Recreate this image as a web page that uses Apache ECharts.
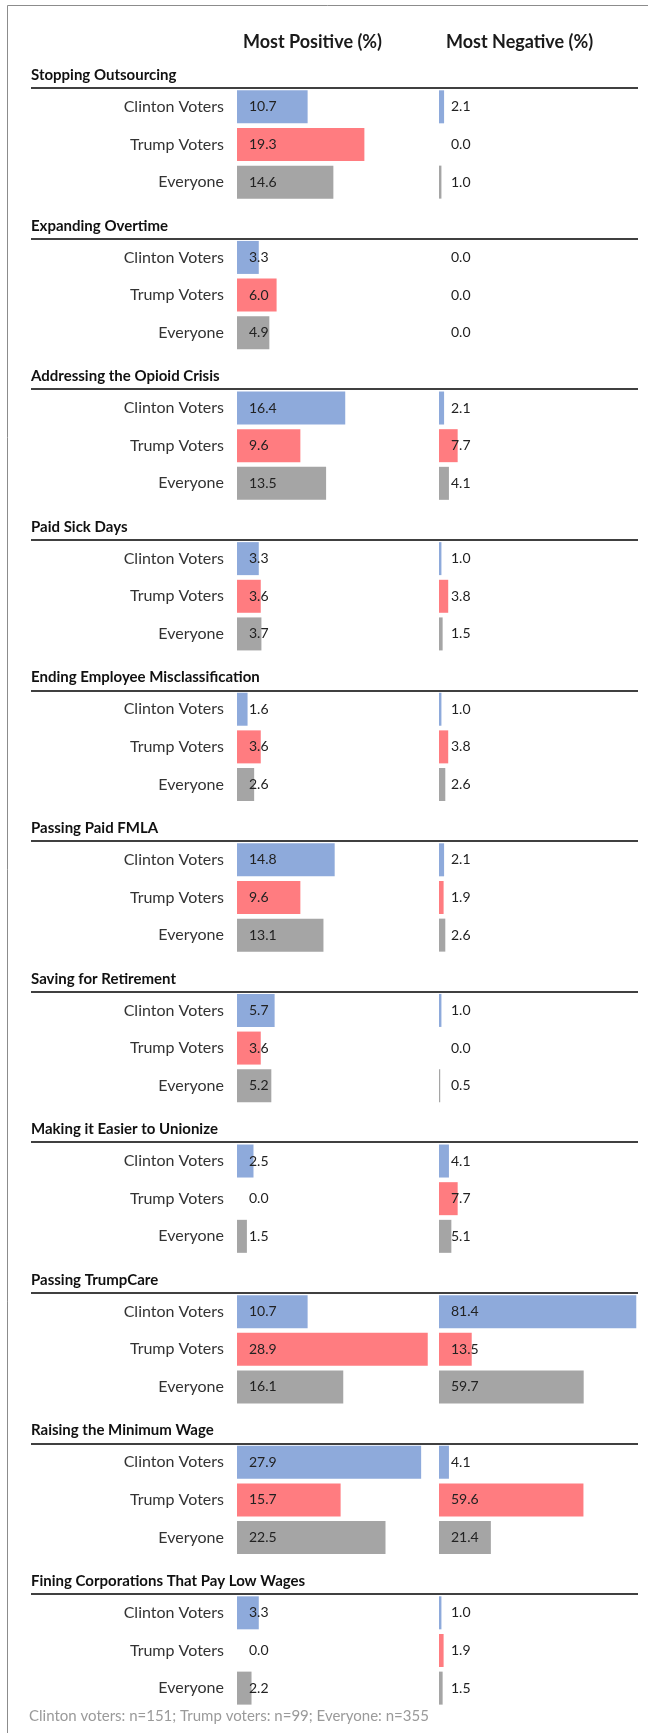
<!DOCTYPE html>
<html>
<head>
<meta charset="utf-8">
<script src="https://cdn.jsdelivr.net/npm/echarts@6/dist/echarts.min.js"></script>
<style>
  html, body { margin: 0; padding: 0; background: #fff; }
  #chart { width: 648px; height: 1733px; }
</style>
</head>
<body>
<div id="chart"></div>
<script>
var sections = [
    'Stopping Outsourcing',
    'Expanding Overtime',
    'Addressing the Opioid Crisis',
    'Paid Sick Days',
    'Ending Employee Misclassification',
    'Passing Paid FMLA',
    'Saving for Retirement',
    'Making it Easier to Unionize',
    'Passing TrumpCare',
    'Raising the Minimum Wage',
    'Fining Corporations That Pay Low Wages'
];
var groups = ['Clinton Voters', 'Trump Voters', 'Everyone'];
// [Clinton, Trump, Everyone] for each section
var positive = [
    [10.7, 19.3, 14.6],
    [3.3, 6.0, 4.9],
    [16.4, 9.6, 13.5],
    [3.3, 3.6, 3.7],
    [1.6, 3.6, 2.6],
    [14.8, 9.6, 13.1],
    [5.7, 3.6, 5.2],
    [2.5, 0.0, 1.5],
    [10.7, 28.9, 16.1],
    [27.9, 15.7, 22.5],
    [3.3, 0.0, 2.2]
];
var negative = [
    [2.1, 0.0, 1.0],
    [0.0, 0.0, 0.0],
    [2.1, 7.7, 4.1],
    [1.0, 3.8, 1.5],
    [1.0, 3.8, 2.6],
    [2.1, 1.9, 2.6],
    [1.0, 0.0, 0.5],
    [4.1, 7.7, 5.1],
    [81.4, 13.5, 59.7],
    [4.1, 59.6, 21.4],
    [1.0, 1.9, 1.5]
];
var columnTitles = ['Most Positive (%)', 'Most Negative (%)'];
var footnote = 'Clinton voters: n=151; Trump voters: n=99; Everyone: n=355';
var groupColors = ['#8eaadb', '#ff7c80', '#a5a5a5'];

var FONT = 'Lato';
var SLOT = 37.65;          // height of one row slot
var TOP = 88 - SLOT;       // first slot holds the first section title

// one title slot + three rows per section
var cats = [];
sections.forEach(function (s, i) {
    cats.push('t' + i);
    groups.forEach(function (g, j) { cats.push('r' + i + '_' + j); });
});
var HEIGHT = cats.length * SLOT;

function rowLabel(v) {
    if (v.charAt(0) === 'r') return groups[+v.split('_')[1]];
    return '';
}
function titleLabel(v) {
    if (v.charAt(0) === 't') return sections[+v.slice(1)];
    return '';
}

function seriesData(table, g) {
    var out = [];
    table.forEach(function (vals) {
        out.push('-');
        for (var j = 0; j < 3; j++) out.push(j === g ? vals[j] : '-');
    });
    return out;
}

function catAxis(grid, labels) {
    return {
        type: 'category',
        gridIndex: grid,
        inverse: true,
        data: cats,
        axisLine: { show: false },
        axisTick: { show: false },
        axisLabel: labels
    };
}

var series = [];
[positive, negative].forEach(function (table, k) {
    groups.forEach(function (g, j) {
        series.push({
            name: g,
            type: 'bar',
            xAxisIndex: k + 1,
            yAxisIndex: k + 1,
            barWidth: 33,
            barGap: '-100%',
            itemStyle: { color: groupColors[j] },
            label: {
                show: true,
                position: 'insideLeft',
                distance: 12,
                color: '#222',
                fontFamily: FONT,
                fontSize: 14,
                formatter: function (p) { return Number(p.value).toFixed(1); }
            },
            silent: true,
            data: seriesData(table, j)
        });
    });
});

var chart = echarts.init(document.getElementById('chart'));
chart.setOption({
    animation: false,
    backgroundColor: '#fff',
    title: [
        { text: columnTitles[0], left: 238, top: 28,
          textStyle: { fontFamily: FONT, fontSize: 18, fontWeight: 'bold', color: '#1a1a1a' } },
        { text: columnTitles[1], left: 441, top: 28,
          textStyle: { fontFamily: FONT, fontSize: 18, fontWeight: 'bold', color: '#1a1a1a' } },
        { text: footnote, left: 24, top: 1704,
          textStyle: { fontFamily: FONT, fontSize: 15, fontWeight: 'normal', color: '#9a9a9a' } }
    ],
    graphic: [{
        type: 'polyline',
        shape: { points: [[648, 5.5], [7.5, 5.5], [7.5, 1733]] },
        style: { stroke: '#8c8c8c', lineWidth: 1, fill: null },
        silent: true
    }],
    grid: [
        { left: 31, right: 10, top: TOP, height: HEIGHT },
        { left: 237, width: 198, top: TOP, height: HEIGHT },
        { left: 439, width: 206, top: TOP, height: HEIGHT }
    ],
    xAxis: [
        { type: 'value', gridIndex: 0, min: 0, max: 1, show: false },
        { type: 'value', gridIndex: 1, min: 0, max: 30, show: false },
        { type: 'value', gridIndex: 2, min: 0, max: 85, show: false }
    ],
    yAxis: [
        Object.assign(catAxis(0, {
            show: true,
            inside: true,
            margin: 0,
            interval: 0,
            formatter: titleLabel,
            fontFamily: FONT,
            fontSize: 15,
            fontWeight: 'bold',
            color: '#111',
            verticalAlign: 'top',
            lineHeight: 12
        }), {
            // one boundary per slot; only the one above each Clinton row is visible
            splitLine: {
                show: true,
                interval: 0,
                lineStyle: { color: ['rgba(0,0,0,0)', '#000', 'rgba(0,0,0,0)', 'rgba(0,0,0,0)'], width: 1.5 }
            }
        }),
        catAxis(1, {
            show: true,
            interval: 0,
            margin: 13,
            formatter: rowLabel,
            fontFamily: FONT,
            fontSize: 16,
            color: '#333'
        }),
        catAxis(2, { show: false })
    ],
    series: series
});
</script>
</body>
</html>
